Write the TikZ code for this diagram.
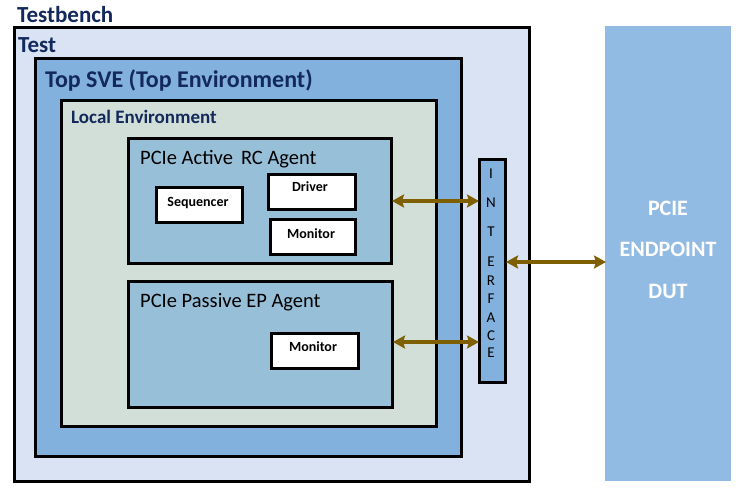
\documentclass[tikz,border=0pt]{standalone}
\usepackage{fontspec}
\setmainfont{Carlito}
\usetikzlibrary{arrows.meta}
\definecolor{navy}{HTML}{13295C}
\definecolor{testfill}{HTML}{DAE3F3}
\definecolor{svefill}{HTML}{83B1DE}
\definecolor{localfill}{HTML}{D2DFD8}
\definecolor{agentfill}{HTML}{98BFD8}
\definecolor{dutfill}{HTML}{92BBE3}
\definecolor{arrowcol}{HTML}{7F6000}
\tikzset{
  box/.style={draw=black, line width=3pt, anchor=north west, inner sep=0pt, outer sep=0pt},
  wbox/.style={draw=black, line width=3pt, fill=white, anchor=north west, inner sep=0pt, outer sep=1.5pt},
  title/.style={anchor=base west, inner sep=0pt, text=navy, font=\bfseries},
  agenttitle/.style={anchor=base west, inner sep=0pt, text=black, font=\fontsize{20.5}{22}\selectfont},
  small/.style={font=\bfseries\fontsize{14}{16}\selectfont, inner sep=0pt},
  link/.style={line width=4pt, draw=arrowcol, {Stealth[length=12pt,width=13pt,inset=2pt]}-{Stealth[length=12pt,width=13pt,inset=2pt]}, shorten <=-1pt, shorten >=-1pt},
}
\begin{document}
\begin{tikzpicture}[x=1pt,y=-1pt]
\useasboundingbox (0,0) rectangle (742,491);
\fill[white] (0,0) rectangle (742,491);
% boxes
\node[box, fill=testfill, minimum width=515pt, minimum height=454pt] (test) at (14,27) {};
\node[box, fill=svefill, minimum width=426pt, minimum height=398pt] (sve) at (35,58) {};
\node[box, fill=localfill, minimum width=375pt, minimum height=326pt] (local) at (61,100) {};
\node[box, fill=agentfill, minimum width=263pt, minimum height=125pt, outer sep=1.5pt] (rc) at (127,137) {};
\node[box, fill=agentfill, minimum width=264pt, minimum height=126pt, outer sep=1.5pt] (ep) at (127,280) {};
\node[wbox, minimum width=86pt, minimum height=35pt] (seq) at (155,186) {};
\node[wbox, minimum width=87pt, minimum height=35pt] (drv) at (267,173) {};
\node[wbox, minimum width=85pt, minimum height=35pt] (mon1) at (269,218) {};
\node[wbox, minimum width=87pt, minimum height=35pt] (mon2) at (270,332) {};
\node[box, fill=svefill, minimum width=26pt, minimum height=223pt, outer sep=1.5pt] (intf) at (478,158) {};
\node[anchor=north west, fill=dutfill, minimum width=126pt, minimum height=455pt, inner sep=0pt] (dut) at (605,26) {};
% titles
\node[title, font=\bfseries\fontsize{23}{26}\selectfont] (tbl) at (17,22) {Testbench};
\node[title, font=\bfseries\fontsize{23}{26}\selectfont] (tl) at (18,52) {Test};
\node[title, font=\bfseries\fontsize{24}{27}\selectfont] (svel) at (45,87) {Top SVE (Top Environment)};
\node[title, font=\bfseries\fontsize{19}{22}\selectfont] (locl) at (71,123) {Local Environment};
\node[agenttitle] (rcl) at (140,164) {PCIe Active\, RC Agent};
\node[agenttitle] (epl) at (140,307) {PCIe Passive EP Agent};
% small labels
\node[small] (seqt) at (198,203) {Sequencer};
\node[small] (drvt) at (310,187) {Driver};
\node[small] (mon1t) at (311,234) {Monitor};
\node[small] (mon2t) at (313,347) {Monitor};
% interface letters
\begin{scope}[every node/.style={font=\fontsize{15}{17}\selectfont, inner sep=0pt}]
\node (i1) at (491,174) {I};
\node (i2) at (491,203) {N};
\node (i3) at (491,232) {T};
\node (i4) at (491,262) {E};
\node (i5) at (491,281) {R};
\node (i6) at (491,299) {F};
\node (i7) at (491,318) {A};
\node (i8) at (491,336) {C};
\node (i9) at (491,353) {E};
\end{scope}
% DUT label
\begin{scope}[every node/.style={font=\bfseries\fontsize{22}{24}\selectfont, text=white, inner sep=0pt}]
\node (d1) at (668,208) {PCIE};
\node (d2) at (668,249) {ENDPOINT};
\node (d3) at (668,291) {DUT};
\end{scope}
% connectors
\coordinate (a1) at (rc.east |- 0,201);
\coordinate (b1) at (intf.west |- 0,201);
\coordinate (a2) at (ep.east |- 0,342);
\coordinate (b2) at (intf.west |- 0,342);
\coordinate (a3) at (intf.east |- 0,262);
\coordinate (b3) at (dut.west |- 0,262);
\draw[link] (a1) -- (b1);
\draw[link] (a2) -- (b2);
\draw[link] (a3) -- (b3);
\end{tikzpicture}
\end{document}
